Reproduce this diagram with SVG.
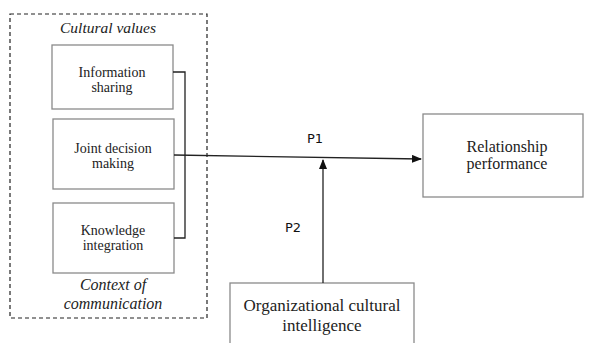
<svg xmlns="http://www.w3.org/2000/svg" width="589" height="343" viewBox="0 0 589 343">
<style>
.box{fill:#fff;stroke:#8a8a8a;stroke-width:1.3}
.t{font-family:"Liberation Serif",serif;font-size:14px;fill:#222;text-anchor:middle}
.tb{font-family:"Liberation Serif",serif;fill:#222;text-anchor:middle}
.ti{font-family:"Liberation Serif",serif;font-style:italic;fill:#222;text-anchor:middle}
.p{font-family:"DejaVu Sans",sans-serif;font-size:13px;fill:#111;text-anchor:middle}
.ln{fill:none;stroke:#222;stroke-width:1.3}
</style>
<defs>
<marker id="ah" markerWidth="10" markerHeight="8" refX="9" refY="4" orient="auto" markerUnits="userSpaceOnUse">
<path d="M0,0 L10,4 L0,8 z" fill="#111"/>
</marker>
</defs>
<rect width="589" height="343" fill="#fff"/>
<g id="context">
<rect x="10" y="14" width="197" height="304" fill="none" stroke="#222" stroke-width="1.2" stroke-dasharray="4,3"/>
<text class="ti" x="108" y="33" font-size="15.5">Cultural values</text>
<text class="ti" x="113" y="290" font-size="16">Context of</text>
<text class="ti" x="113" y="309" font-size="16">communication</text>
</g>
<g id="info">
<rect class="box" x="52" y="45" width="121" height="64"/>
<text class="t" x="112" y="77">Information</text>
<text class="t" x="112" y="92">sharing</text>
</g>
<g id="joint">
<rect class="box" x="53" y="119" width="121" height="70"/>
<text class="t" x="113" y="153">Joint decision</text>
<text class="t" x="113" y="168">making</text>
</g>
<g id="knowledge">
<rect class="box" x="53" y="203" width="121" height="70"/>
<text class="t" x="113" y="235">Knowledge</text>
<text class="t" x="113" y="250">integration</text>
</g>
<g id="relationship">
<rect class="box" x="423" y="114" width="160" height="83"/>
<text class="tb" x="507" y="152" font-size="16">Relationship</text>
<text class="tb" x="507" y="169" font-size="16">performance</text>
</g>
<g id="ocq">
<rect class="box" x="230" y="283" width="184" height="70"/>
<text class="tb" x="322" y="311" font-size="17">Organizational cultural</text>
<text class="tb" x="322" y="331" font-size="17">intelligence</text>
</g>
<g id="connectors">
<path class="ln" d="M173,72 H185 V238 H174"/>
<path class="ln" d="M174,155 L421,159" marker-end="url(#ah)"/>
<path class="ln" d="M323,283 V160" marker-end="url(#ah)"/>
<text class="p" x="315" y="143">P1</text>
<text class="p" x="293" y="232">P2</text>
</g>
</svg>
